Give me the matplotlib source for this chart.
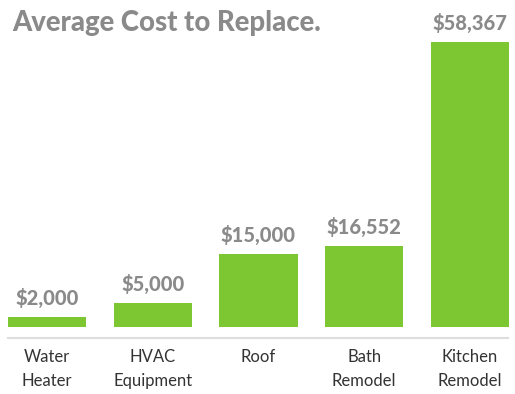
import matplotlib.pyplot as plt
from matplotlib.transforms import blended_transform_factory

# data
categories = ['Water\nHeater', 'HVAC\nEquipment', 'Roof', 'Bath\nRemodel', 'Kitchen\nRemodel']
costs = [2000, 5000, 15000, 16552, 58367]

green = '#7dc832'
label_grey = '#8a8a8a'

fig = plt.figure(figsize=(5.15, 3.94), dpi=100)
ax = fig.add_axes([0, 0, 1, 1])

x = list(range(len(categories)))
ax.bar(x, costs, width=0.74, color=green)

# scale: bars sit 67px above the bottom, tallest bar is 285px high
per_px = max(costs) / 285
ax.set_xlim(-47 / 105.7, (515 - 47) / 105.7)
ax.set_ylim(-67 * per_px, 327 * per_px)

# thin grey baseline below the bars
ax.axhline(-11 * per_px, xmin=0.016, xmax=0.986, color='#dedede', lw=1.5)

for xi, c in zip(x, costs):
    ax.text(xi, c + 9 * per_px, '${:,}'.format(c), ha='center', va='bottom',
            fontsize=14.5, fontweight='black', color=label_grey, family='Lato')

tr = blended_transform_factory(ax.transData, fig.transFigure)
for xi, cat in zip(x, categories):
    ax.text(xi, 1 - 349 / 394, cat, transform=tr, ha='center', va='top',
            fontsize=12, color='#333333', family='Lato', linespacing=1.6)

fig.text(12 / 515, 1 - 23 / 394, 'Average Cost to Replace.', ha='left', va='center',
         fontsize=19.8, fontweight='black', color=label_grey, family='Lato')

ax.axis('off')
fig.savefig('out.png', dpi=100)
